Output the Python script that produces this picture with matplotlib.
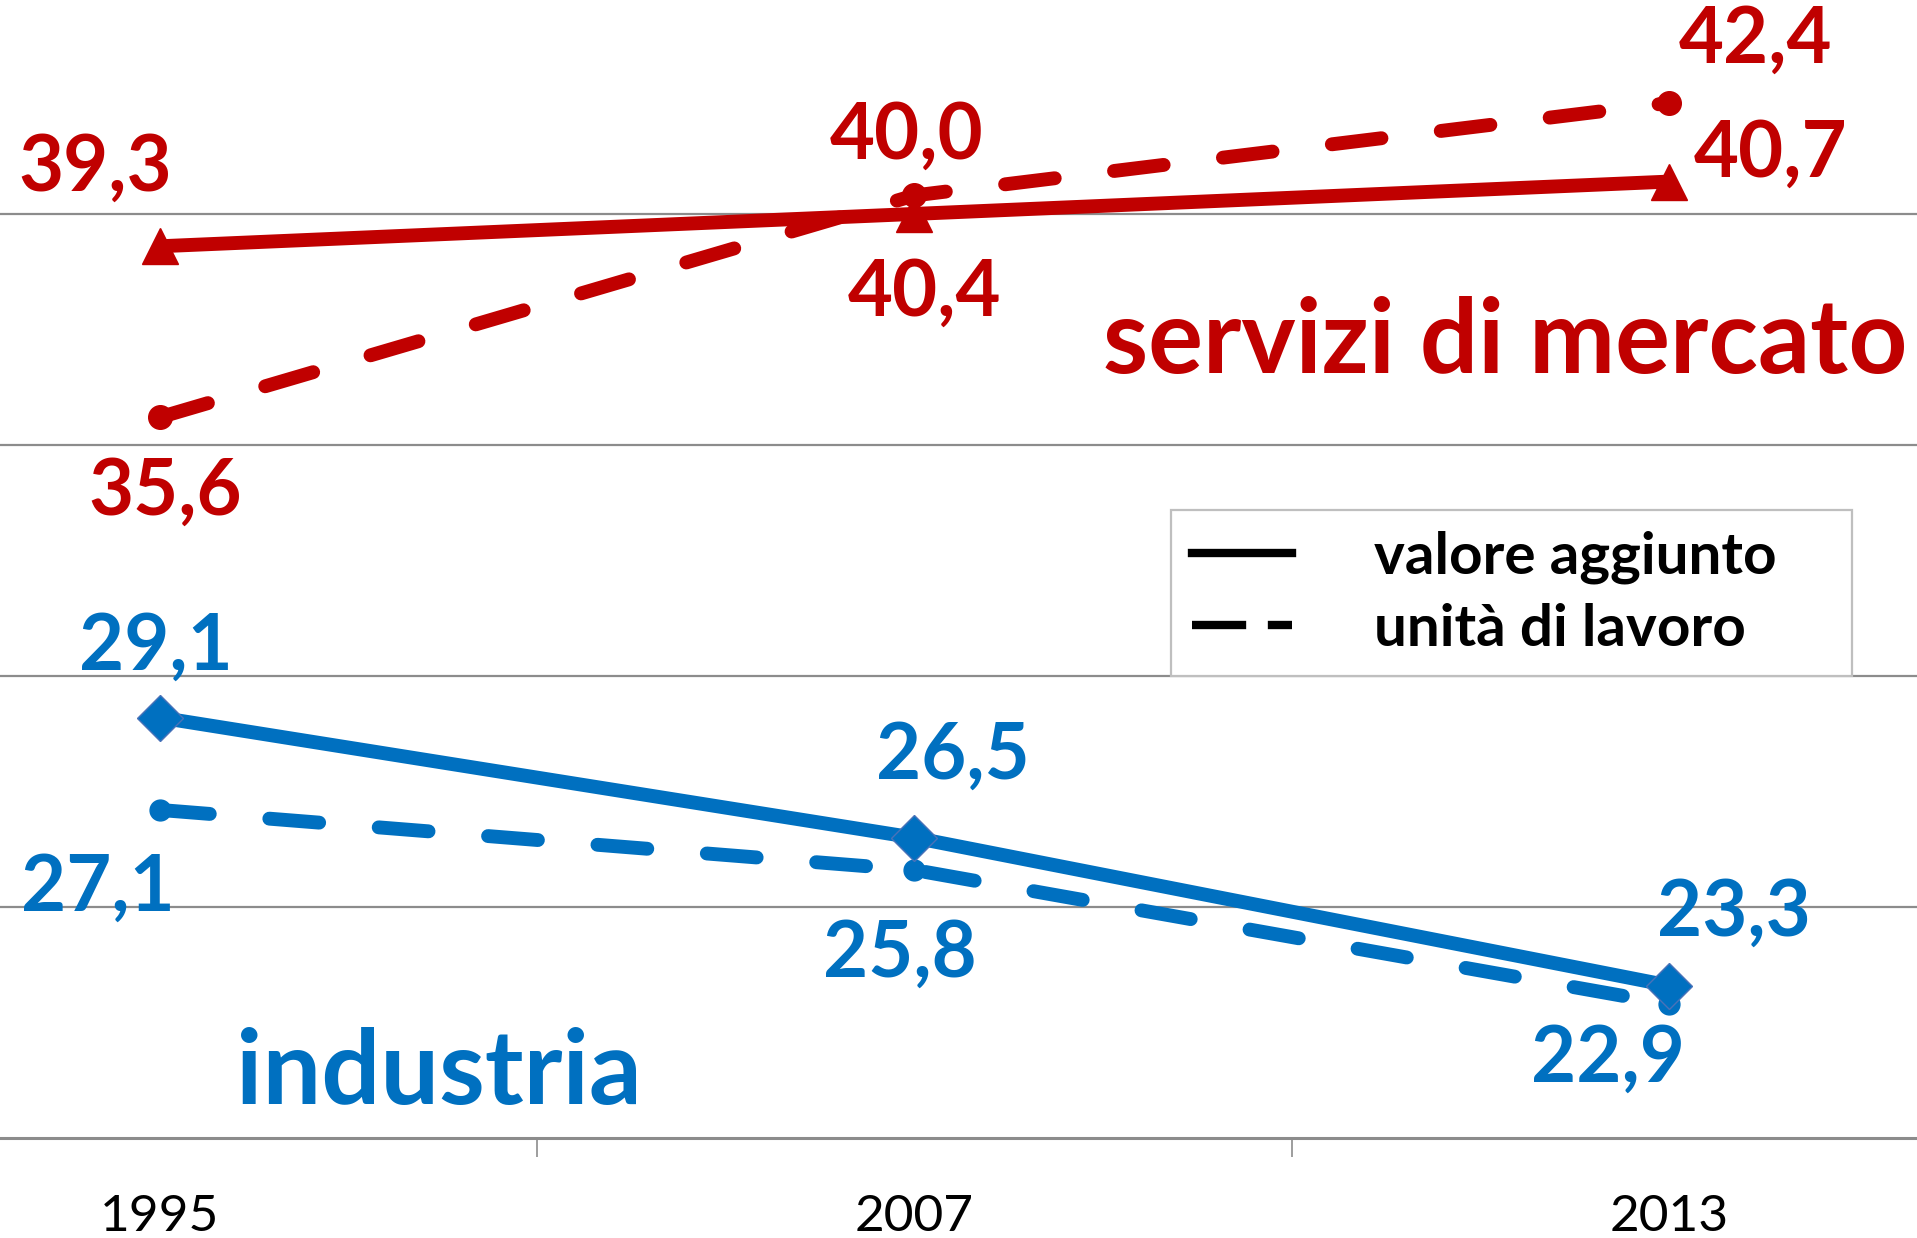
import matplotlib.pyplot as plt
from matplotlib.lines import Line2D

# categorie e serie (quote %)
anni = ["1995", "2007", "2013"]
servizi_va = [39.3, 40.0, 40.7]
servizi_ula = [35.6, 40.4, 42.4]
industria_va = [29.1, 26.5, 23.3]
industria_ula = [27.1, 25.8, 22.9]

# offset etichette in pixel (dx, dy) rispetto al punto
off_servizi_va = [(-65, 78), (-8, 77), (102, 27)]
off_servizi_ula = [(5, -75), (10, -98), (87, 62)]
off_industria_va = [(-4, 70), (39, 81), (65, 72)]
off_industria_ula = [(-62, -79), (-15, -85), (-61, -56)]

ROSSO = "#C00000"
BLU = "#0070C0"
FONT = "Lato"

fig = plt.figure(figsize=(19.17, 12.38), dpi=100)
ax = fig.add_axes([0, 100 / 1238, 1, 1138 / 1238])
x = list(range(len(anni)))

dash = (0, (3.6, 4.3))
LW = 10

# servizi: prima continua, poi tratteggiata
ax.plot(x, servizi_va, color=ROSSO, lw=LW, marker="^", ms=26, solid_capstyle="butt", zorder=3)
ax.plot(x, servizi_ula, color=ROSSO, lw=LW, ls=dash, dash_capstyle="round",
        marker="o", ms=17, zorder=4)
# industria: prima tratteggiata, poi continua
ax.plot(x, industria_ula, color=BLU, lw=LW, ls=dash, dash_capstyle="round",
        marker="o", ms=15, zorder=3)
ax.plot(x, industria_va, color=BLU, lw=LW, marker="D", ms=23, mec="#4a72b8", mew=1, zorder=4)


def etichette(vals, offs, col):
    for i, (v, o) in enumerate(zip(vals, offs)):
        ax.annotate(f"{v:.1f}".replace(".", ","), (i, v), xytext=o, textcoords="offset pixels",
                    ha="center", va="center", color=col, fontsize=56, fontweight="bold",
                    family=FONT)


etichette(servizi_va, off_servizi_va, ROSSO)
etichette(servizi_ula, off_servizi_ula, ROSSO)
etichette(industria_va, off_industria_va, BLU)
etichette(industria_ula, off_industria_ula, BLU)

ax.text(0.995, 0.672, "servizi di mercato", transform=ax.transAxes, ha="right", va="baseline",
        color=ROSSO, fontsize=74, fontweight="bold", family=FONT)
ax.text(0.123, 0.030, "industria", transform=ax.transAxes, ha="left", va="baseline",
        color=BLU, fontsize=75, fontweight="bold", family=FONT)

ax.set_xlim(-0.212, 2.329)
ax.set_ylim(20, 44.63)
ax.set_yticks([25, 30, 35, 40])
ax.yaxis.grid(True, color="#8c8c8c", lw=1.6)
ax.set_axisbelow(True)
ax.tick_params(axis="y", left=False, labelleft=False)
for s in ["top", "left", "right"]:
    ax.spines[s].set_visible(False)
ax.spines["bottom"].set_color("#8c8c8c")
ax.spines["bottom"].set_linewidth(2.2)

ax.set_xticks(x)
ax.set_xticklabels(anni, fontsize=37, family=FONT)
ax.set_xticks([0.5, 1.5], minor=True)
ax.tick_params(axis="x", which="major", length=0, pad=40)
ax.tick_params(axis="x", which="minor", length=14, width=1.2, color="#8c8c8c")

handles = [Line2D([], [], color="black", lw=6),
           Line2D([], [], color="black", lw=6, ls=(0, (6.5, 2.6)))]
leg = ax.legend(handles, ["valore aggiunto", "unità di lavoro"], loc="lower left",
                bbox_to_anchor=(0.611, 0.406, 0.355, 0.1), mode="expand", fancybox=False,
                framealpha=1, edgecolor="#bfbfbf",
                prop={"family": FONT, "weight": "bold", "size": 42},
                handlelength=1.72, handletextpad=1.4, labelspacing=0.32, borderpad=0.35,
                borderaxespad=0)
leg.get_frame().set_linewidth(1.6)

fig.savefig("out.png", dpi=100)
